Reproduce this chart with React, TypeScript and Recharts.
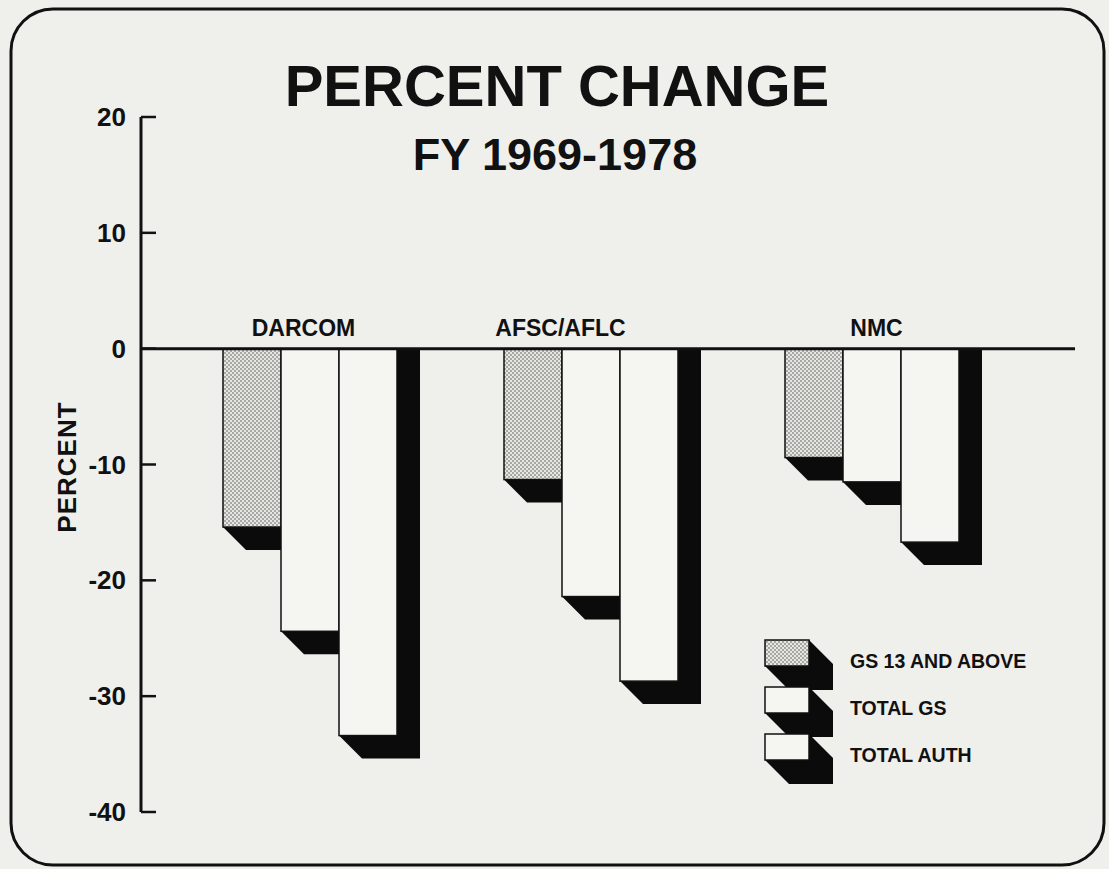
import React from 'react'
import { BarChart, Bar, XAxis, YAxis, ReferenceLine, Legend } from 'recharts'

const CATEGORIES = ['DARCOM', 'AFSC/AFLC', 'NMC']
const GS13_ABOVE = [-15.4, -11.3, -9.4]
const TOTAL_GS = [-24.4, -21.4, -11.5]
const TOTAL_AUTH = [-33.4, -28.7, -16.7]
const Y_TICKS = [20, 10, 0, -10, -20, -30, -40]
const SERIES_NAMES = ['GS 13 AND ABOVE', 'TOTAL GS', 'TOTAL AUTH']

const data = CATEGORIES.map((name, i) => ({
  name,
  gs13: GS13_ABOVE[i],
  totalGs: TOTAL_GS[i],
  totalAuth: TOTAL_AUTH[i],
}))

const W = 1109
const H = 869
const AXIS_X = 141
const PLOT_TOP = 117
const PLOT_BOTTOM = 812
const X_AXIS_H = 30
const ZERO_Y = PLOT_TOP + (PLOT_BOTTOM - PLOT_TOP) * (20 / 60)
const DEPTH = 23
const BG = '#efefec'
const FACE = '#f5f5f2'
const FONT = '"Liberation Sans", Arial, sans-serif'

// labels sit a little off the group centres in the original
const LABEL_NUDGE: Record<string, number> = { DARCOM: -6, 'AFSC/AFLC': -30, NMC: 5 }

const ShadowBar = (props: any) => {
  const { x, y, width, height, fill } = props
  const top = Math.min(y, y + height)
  const bottom = Math.max(y, y + height)
  const pts = [
    [x, bottom],
    [x + DEPTH, bottom + DEPTH],
    [x + width + DEPTH, bottom + DEPTH],
    [x + width + DEPTH, top],
    [x + width, top],
    [x + width, bottom],
  ]
    .map(p => p.join(','))
    .join(' ')
  return (
    <g>
      <polygon points={pts} fill="#0b0b0b" />
      <rect x={x} y={top} width={width} height={bottom - top} fill={fill} stroke="#111" strokeWidth={1.5} />
    </g>
  )
}

const YTick = (props: any) => {
  const { y, payload } = props
  return (
    <g>
      <line x1={AXIS_X} x2={AXIS_X + 15} y1={y} y2={y} stroke="#111" strokeWidth={2.5} />
      <text x={AXIS_X - 15} y={y + 9} textAnchor="end" fontFamily={FONT} fontWeight="bold" fontSize={26} fill="#111">
        {payload.value}
      </text>
    </g>
  )
}

const CategoryTick = (props: any) => {
  const { x, payload } = props
  return (
    <text
      x={x + (LABEL_NUDGE[payload.value] || 0)}
      y={ZERO_Y - 13}
      textAnchor="middle"
      fontFamily={FONT}
      fontWeight="bold"
      fontSize={23}
      fill="#111"
    >
      {payload.value}
    </text>
  )
}

const Stipple = ({ id }: { id: string }) => (
  <pattern id={id} width="4" height="4" patternUnits="userSpaceOnUse">
    <rect width="4" height="4" fill="#e6e6e2" />
    <circle cx="1" cy="1" r="0.9" fill="#8a8a88" />
    <circle cx="3" cy="3" r="0.9" fill="#8a8a88" />
  </pattern>
)

const FILLS = ['url(#stipple)', FACE, FACE]

const LegendBoxes = () => {
  const bw = 44
  const bh = 26
  const d = 24
  return (
    <svg width={300} height={170} style={{ display: 'block' }}>
      <defs>
        <Stipple id="stippleLeg" />
      </defs>
      {SERIES_NAMES.map((name, i) => {
        const x = 15
        const y = 15 + i * 47
        const pts = [
          [x, y],
          [x + bw, y],
          [x + bw + d, y + d],
          [x + bw + d, y + bh + d],
          [x + d, y + bh + d],
          [x, y + bh],
        ]
          .map(p => p.join(','))
          .join(' ')
        return (
          <g key={name}>
            <polygon points={pts} fill="#0b0b0b" />
            <rect
              x={x}
              y={y}
              width={bw}
              height={bh}
              fill={i === 0 ? 'url(#stippleLeg)' : FACE}
              stroke="#111"
              strokeWidth={1.5}
            />
            <text x={100} y={y + 28} fontFamily={FONT} fontWeight="bold" fontSize={19.5} fill="#111">
              {name}
            </text>
          </g>
        )
      })}
    </svg>
  )
}

const App: React.FC = () => {
  return (
    <div style={{ position: 'absolute', left: 0, top: 0, width: W, height: H, background: BG }}>
      {/* frame and titles */}
      <svg width={W} height={H} style={{ position: 'absolute', left: 0, top: 0 }}>
        <rect x={11} y={9} width={1093} height={856} rx={42} ry={42} fill="none" stroke="#111" strokeWidth={3} />
        <text x={557} y={106} textAnchor="middle" fontFamily={FONT} fontWeight="bold" fontSize={58} fill="#111">
          PERCENT CHANGE
        </text>
        <text x={555} y={170} textAnchor="middle" fontFamily={FONT} fontWeight="bold" fontSize={45} fill="#111">
          FY 1969-1978
        </text>
        <text
          x={0}
          y={0}
          transform="translate(76, 467) rotate(-90)"
          textAnchor="middle"
          fontFamily={FONT}
          fontWeight="bold"
          fontSize={26}
          letterSpacing={1}
          fill="#111"
        >
          PERCENT
        </text>
      </svg>

      <div style={{ position: 'absolute', left: 0, top: 0 }}>
        <BarChart
          width={W}
          height={H}
          data={data}
          margin={{ top: PLOT_TOP, right: W - 1075, bottom: H - PLOT_BOTTOM - X_AXIS_H, left: AXIS_X - 120 }}
          barSize={58}
          barGap={0}
        >
          <defs>
            <Stipple id="stipple" />
          </defs>
          <XAxis
            dataKey="name"
            height={X_AXIS_H}
            axisLine={false}
            tickLine={false}
            tick={<CategoryTick />}
            padding={{ left: 28, right: 63 }}
          />
          <YAxis
            width={120}
            domain={[-40, 20]}
            ticks={Y_TICKS}
            interval={0}
            axisLine={{ stroke: '#111', strokeWidth: 3 }}
            tickLine={false}
            tick={<YTick />}
          />
          <Bar dataKey="gs13" name={SERIES_NAMES[0]} fill={FILLS[0]} shape={<ShadowBar />} isAnimationActive={false} />
          <Bar dataKey="totalGs" name={SERIES_NAMES[1]} fill={FILLS[1]} shape={<ShadowBar />} isAnimationActive={false} />
          <Bar dataKey="totalAuth" name={SERIES_NAMES[2]} fill={FILLS[2]} shape={<ShadowBar />} isAnimationActive={false} />
          <ReferenceLine y={0} stroke="#111" strokeWidth={3} />
          <Legend
            layout="vertical"
            align="center"
            verticalAlign="middle"
            content={<LegendBoxes />}
            wrapperStyle={{ position: 'absolute', left: 750, top: 625, width: 300, height: 170 }}
          />
        </BarChart>
      </div>
    </div>
  )
}

export default App
